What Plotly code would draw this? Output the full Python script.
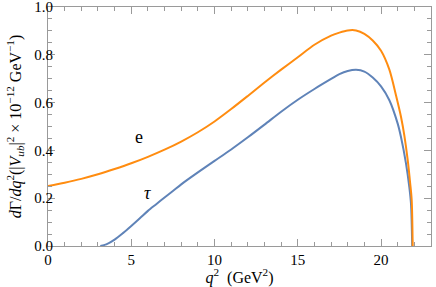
import plotly.graph_objects as go

q2_e = [0, 1, 2, 3, 4, 5, 6, 7, 8, 9, 10, 11, 12, 13, 14, 15, 16, 17, 17.5, 18, 18.5,
        19, 19.5, 20, 20.5, 20.9, 21.2, 21.4, 21.6, 21.75, 21.84, 21.9]
rate_e = [0.251, 0.265, 0.281, 0.300, 0.322, 0.346, 0.373, 0.403, 0.437, 0.476, 0.521,
          0.573, 0.628, 0.684, 0.738, 0.790, 0.842, 0.880, 0.893, 0.902, 0.902,
          0.888, 0.860, 0.817, 0.738, 0.630, 0.540, 0.462, 0.360, 0.262, 0.193, 0.0]

q2_tau = [3.14, 3.5, 4, 4.5, 5, 5.5, 6, 6.5, 7, 7.5, 8, 9, 10, 11, 12, 13, 14, 15, 16,
          17, 17.5, 18, 18.5, 19, 19.5, 20, 20.5, 21, 21.2, 21.5, 21.7, 21.8, 21.87]
rate_tau = [0.0, 0.007, 0.027, 0.054, 0.084, 0.115, 0.147, 0.175, 0.203, 0.230, 0.258,
            0.308, 0.356, 0.404, 0.455, 0.508, 0.562, 0.612, 0.657, 0.699, 0.719,
            0.732, 0.737, 0.730, 0.705, 0.668, 0.610, 0.512, 0.455, 0.345, 0.245,
            0.175, 0.0]

labels = ["e", "τ"]
label_x = [5.47, 5.96]
label_y = [0.457, 0.222]

y_ticks = [0, 0.2, 0.4, 0.6, 0.8, 1.0]
y_ticktext = ["0.0", "0.2", "0.4", "0.6", "0.8", "1.0"]
x_ticks = [0, 5, 10, 15, 20]
x_ticktext = ["0", "5", "10", "15", "20"]

blue = "#5f83b8"
orange = "#ff8c10"
frame = "#9a9a9a"
font = "Liberation Serif, Times New Roman, serif"

fig = go.Figure()
fig.add_trace(go.Scatter(x=q2_tau, y=rate_tau, mode="lines",
                         line=dict(color=blue, width=2, shape="spline", smoothing=0.8),
                         showlegend=False, hoverinfo="skip"))
fig.add_trace(go.Scatter(x=q2_e, y=rate_e, mode="lines",
                         line=dict(color=orange, width=2, shape="spline", smoothing=0.8),
                         showlegend=False, hoverinfo="skip"))
# invisible copy bound to the label axis so that it is drawn
fig.add_trace(go.Scatter(x=q2_e, y=rate_e, mode="lines", yaxis="y2", opacity=0,
                         line=dict(color=orange, width=0),
                         showlegend=False, hoverinfo="skip"))

fig.add_annotation(x=label_x[0], y=label_y[0], text=labels[0], showarrow=False,
                   font=dict(family=font, size=18, color="black"))
fig.add_annotation(x=label_x[1], y=label_y[1], text="<i>" + labels[1] + "</i>", showarrow=False,
                   font=dict(family=font, size=18, color="black"))

yrange = [0, 1.0001]

fig.update_layout(
    width=436, height=287, margin=dict(l=48, r=5, t=7, b=41, autoexpand=False),
    plot_bgcolor="white", paper_bgcolor="white",
    xaxis=dict(range=[0, 23], tickvals=x_ticks, ticktext=x_ticktext,
               showline=True, linecolor=frame, linewidth=1, mirror="ticks",
               ticks="inside", tickcolor=frame, ticklen=7, tickwidth=1,
               showgrid=False, zeroline=False, ticklabeloverflow="allow",
               tickfont=dict(family=font, size=15, color="black"),
               minor=dict(dtick=1, tick0=0, ticks="inside", ticklen=4, tickcolor=frame, showgrid=False),
               title=dict(text="<i>q</i><sup>2</sup>  (GeV<sup>2</sup>)",
                          font=dict(family=font, size=16, color="black"), standoff=1)),
    yaxis=dict(range=yrange, tickvals=y_ticks, showticklabels=False,
               showline=True, linecolor=frame, linewidth=1, mirror="ticks",
               ticks="inside", tickcolor=frame, ticklen=7, tickwidth=1,
               showgrid=False, zeroline=False,
               minor=dict(dtick=0.05, tick0=0, ticks="inside", ticklen=4, tickcolor=frame, showgrid=False)),
    yaxis2=dict(range=yrange, overlaying="y", anchor="free", position=0.013, side="left",
                tickvals=y_ticks, ticktext=y_ticktext, showline=False, ticks="",
                showgrid=False, zeroline=False, ticklabeloverflow="allow",
                tickfont=dict(family=font, size=15, color="black"),
                title=dict(text="<i>d</i>Γ/<i>dq</i><sup>2</sup>(|<i>V</i><sub><i>ub</i></sub>|<sup>2</sup> × 10<sup>−12</sup> GeV<sup>−1</sup>)",
                           font=dict(family=font, size=16, color="black"), standoff=7)),
)

fig.write_html("out.html", config={"displayModeBar": False},
               post_script="document.body.style.margin='0';document.body.style.overflow='hidden';")
